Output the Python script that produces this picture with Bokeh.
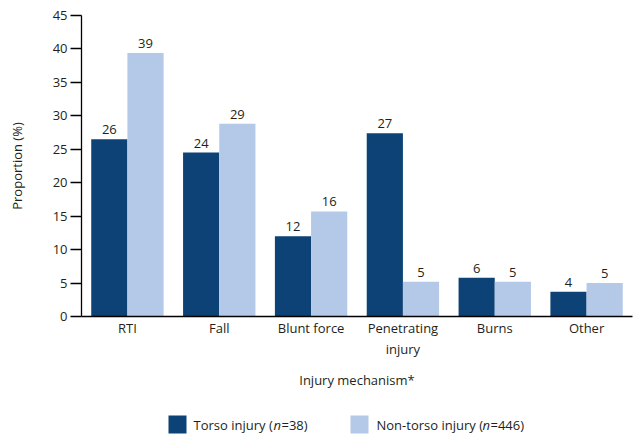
from bokeh.plotting import figure
from bokeh.models import ColumnDataSource, FactorRange, Range1d, FixedTicker
from bokeh.layouts import column
from bokeh.transform import dodge
from bokeh.core.properties import value
from bokeh.embed import file_html
from bokeh.resources import INLINE

categories = ["RTI", "Fall", "Blunt force", "Penetrating\ninjury", "Burns", "Other"]
torso = [26.5, 24.5, 12.0, 27.4, 5.8, 3.7]
non_torso = [39.4, 28.8, 15.7, 5.2, 5.2, 5.0]
torso_labels = ["26", "24", "12", "27", "6", "4"]
non_torso_labels = ["39", "29", "16", "5", "5", "5"]
y_ticks = [0, 5, 10, 15, 20, 25, 30, 35, 40, 45]

DARK = "#0c4276"
LIGHT = "#b4c8e7"
TXT = "#231f20"
FONT = "Open Sans"

src = ColumnDataSource(dict(cat=categories, torso=torso, non=non_torso,
                            tl=torso_labels, nl=non_torso_labels))

p = figure(x_range=FactorRange(*categories, range_padding=0), y_range=Range1d(0, 45),
           frame_width=551, frame_height=301, output_backend="svg", toolbar_location=None,
           min_border_left=81, min_border_top=15, min_border_right=4, min_border_bottom=20)
p.outline_line_color = None
p.xgrid.grid_line_color = None
p.ygrid.grid_line_color = None

bw = 0.394
p.vbar(x=dodge("cat", -bw / 2, range=p.x_range), top="torso", width=bw, source=src,
       fill_color=DARK, line_color=None)
p.vbar(x=dodge("cat", bw / 2, range=p.x_range), top="non", width=bw, source=src,
       fill_color=LIGHT, line_color=None)

p.text(x=dodge("cat", -bw / 2, range=p.x_range), y="torso", text="tl", source=src,
       text_align="center", text_baseline="bottom", y_offset=-5,
       text_font=value(FONT), text_font_size="13px", text_color=TXT)
p.text(x=dodge("cat", bw / 2, range=p.x_range), y="non", text="nl", source=src,
       text_align="center", text_baseline="bottom", y_offset=-5,
       text_font=value(FONT), text_font_size="13px", text_color=TXT)

p.yaxis.ticker = FixedTicker(ticks=y_ticks)
p.yaxis.axis_label = "Proportion (%)"
p.xaxis.axis_label = "Injury mechanism*"
for ax in (p.xaxis, p.yaxis):
    ax.axis_line_color = "black"
    ax.axis_line_width = 1.3
    ax.major_label_text_font = FONT
    ax.major_label_text_font_size = "13px"
    ax.major_label_text_color = TXT
    ax.axis_label_text_font = FONT
    ax.axis_label_text_font_size = "13px"
    ax.axis_label_text_font_style = "normal"
    ax.axis_label_text_color = TXT
    ax.minor_tick_line_color = None
p.xaxis.major_tick_line_color = None
p.xaxis.major_tick_in = 0
p.xaxis.major_tick_out = 0
p.xaxis.major_label_standoff = 2
p.xaxis.axis_label_standoff = 10
p.yaxis.major_tick_in = 0
p.yaxis.major_tick_out = 11
p.yaxis.major_tick_line_color = "black"
p.yaxis.major_tick_line_width = 1.3
p.yaxis.major_label_standoff = 3
p.yaxis.axis_label_standoff = 24

# legend strip (aligned with the main frame, x in page pixels)
lg = figure(x_range=Range1d(81, 632), y_range=Range1d(0, 50), frame_width=551, frame_height=50,
            x_axis_type=None, y_axis_type=None,
            output_backend="svg", toolbar_location=None, min_border=0)
lg.xgrid.visible = False
lg.ygrid.visible = False
lg.outline_line_color = None

legend_names = ["Torso injury (", "Non-torso injury ("]
legend_ns = ["=38)", "=446)"]
ly = 18
lg.rect(x=[177, 359], y=[ly, ly], width=18, height=18, fill_color=[DARK, LIGHT], line_color=None)
lg.text(x=[193, 376], y=[ly, ly], text=legend_names, text_align="left", text_baseline="middle",
        text_font=value(FONT), text_font_size="13px", text_color=TXT)
lg.text(x=[273, 482], y=[ly, ly], text=["n", "n"], text_align="left", text_baseline="middle",
        text_font=value(FONT), text_font_size="13px", text_font_style="italic", text_color=TXT)
lg.text(x=[281, 490], y=[ly, ly], text=legend_ns, text_align="left", text_baseline="middle",
        text_font=value(FONT), text_font_size="13px", text_color=TXT)

layout = column(p, lg, spacing=0)
open("out.html", "w").write(file_html(layout, INLINE))
